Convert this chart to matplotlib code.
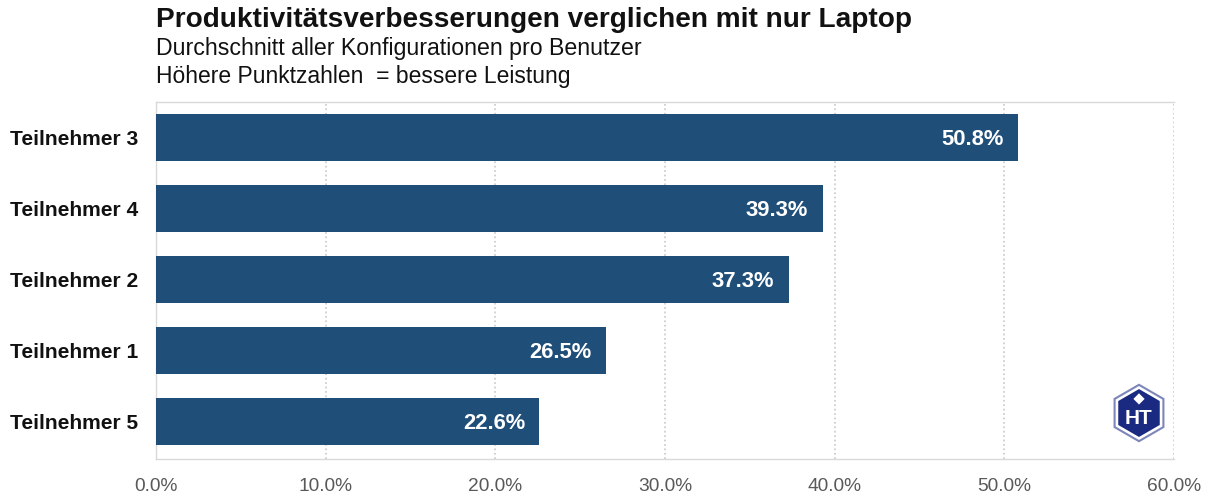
import matplotlib.pyplot as plt
import numpy as np
from matplotlib.patches import RegularPolygon
from matplotlib.ticker import FuncFormatter

plt.rcParams['font.family'] = ['Liberation Sans', 'DejaVu Sans']

teilnehmer = ['Teilnehmer 3', 'Teilnehmer 4', 'Teilnehmer 2', 'Teilnehmer 1', 'Teilnehmer 5']
werte = [50.8, 39.3, 37.3, 26.5, 22.6]

bar_color = '#1F4E79'
grid_color = '#C8C8C8'

fig = plt.figure(figsize=(12.09, 4.99), dpi=100)
ax = fig.add_axes([156/1209, 1 - 459/499, (1174-156)/1209, (459-102)/499])

y = np.arange(len(teilnehmer))
ax.barh(y, werte, height=0.66, color=bar_color, zorder=3)
for yi, v in zip(y, werte):
    ax.text(v - 0.85, yi + 0.03, '{:.1f}%'.format(v), color='white', fontsize=15.8,
            fontweight='bold', ha='right', va='center', zorder=4)

ax.set_xlim(0, 60)
ax.set_ylim(4.53, -0.5)
ax.set_xticks(np.arange(0, 61, 10))
ax.xaxis.set_major_formatter(FuncFormatter(lambda v, p: '{:.1f}%'.format(v)))
ax.set_yticks(y)
ax.set_yticklabels(teilnehmer, fontsize=15.1, fontweight='bold', color='#111111')
ax.tick_params(axis='x', length=0, labelsize=13.8, labelcolor='#595959', pad=14)
ax.tick_params(axis='y', length=0, pad=13)
ax.grid(axis='x', color=grid_color, linestyle=':', linewidth=1.2, zorder=0)

for s in ['top', 'left', 'bottom']:
    ax.spines[s].set_color('#D9D9D9')
    ax.spines[s].set_linewidth(1)
ax.spines['right'].set_visible(False)

fig.text(156/1209, 1 - 20/499, 'Produktivitätsverbesserungen verglichen mit nur Laptop',
         fontsize=20.2, fontweight='bold', ha='left', va='center', color='#111111')
fig.text(156/1209, 1 - 49/499, 'Durchschnitt aller Konfigurationen pro Benutzer',
         fontsize=16.7, ha='left', va='center', color='#111111')
fig.text(156/1209, 1 - 76/499, 'Höhere Punktzahlen  = bessere Leistung',
         fontsize=16.5, ha='left', va='center', color='#111111')

# logo
lax = fig.add_axes([1108/1209, 1 - 444/499, 62/1209, 62/499])
lax.set_xlim(-1.1, 1.1)
lax.set_ylim(-1.1, 1.1)
lax.set_aspect('equal')
lax.axis('off')
lax.add_patch(RegularPolygon((0, 0), 6, radius=1.0, facecolor='white', edgecolor='#7C86B8', linewidth=1.5))
lax.add_patch(RegularPolygon((0, 0), 6, radius=0.85, facecolor='#1A2A80', edgecolor='none'))
lax.add_patch(RegularPolygon((0, 0.5), 4, radius=0.2, facecolor='white', edgecolor='none'))
lax.text(0, -0.2, 'HT', color='white', fontsize=15, fontweight='bold', ha='center', va='center')

fig.savefig('out.png', dpi=100)
